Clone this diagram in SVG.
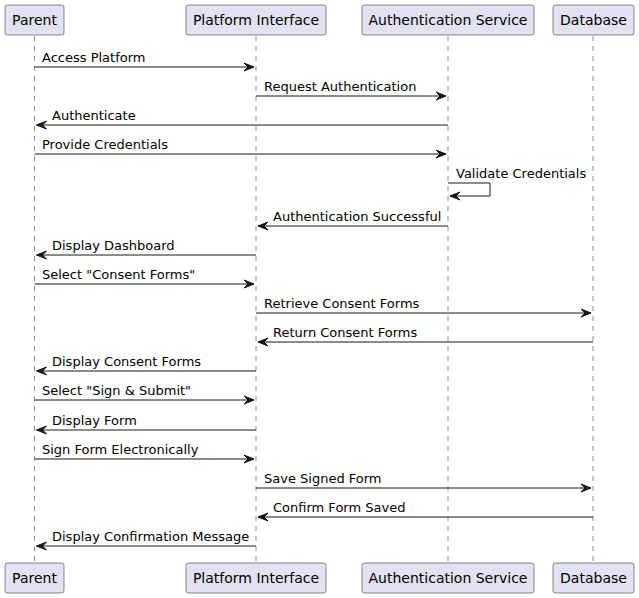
<svg xmlns="http://www.w3.org/2000/svg" width="639" height="598" viewBox="0 0 639 598">
<defs>
<style>
.life{stroke:#181818;stroke-width:0.5;stroke-dasharray:5,5;fill:none}
.box{fill:#E2E2F0;stroke:#181818;stroke-width:0.5}
.pt{font-family:"DejaVu Sans",sans-serif;font-size:14px;fill:#000;text-anchor:middle}
.msg{stroke:#181818;stroke-width:1;fill:none}
.head{fill:#181818;stroke:#181818;stroke-width:1}
.mt{font-family:"DejaVu Sans",sans-serif;font-size:13px;fill:#000}
</style>
</defs>
<rect width="639" height="598" fill="#FFFFFF"/>
<g id="lifelines">
<line class="life" x1="34.5" y1="36" x2="34.5" y2="563"/>
<line class="life" x1="256" y1="36" x2="256" y2="563"/>
<line class="life" x1="448" y1="36" x2="448" y2="563"/>
<line class="life" x1="593" y1="36" x2="593" y2="563"/>
</g>
<g id="parent">
<rect class="box" x="5" y="5" width="59" height="30" rx="2.5"/>
<text class="pt" x="34.5" y="25">Parent</text>
<rect class="box" x="5" y="563" width="59" height="30" rx="2.5"/>
<text class="pt" x="34.5" y="583">Parent</text>
</g>
<g id="platform">
<rect class="box" x="186" y="5" width="140" height="30" rx="2.5"/>
<text class="pt" x="256" y="25">Platform Interface</text>
<rect class="box" x="186" y="563" width="140" height="30" rx="2.5"/>
<text class="pt" x="256" y="583">Platform Interface</text>
</g>
<g id="auth">
<rect class="box" x="362" y="5" width="172" height="30" rx="2.5"/>
<text class="pt" x="448" y="25">Authentication Service</text>
<rect class="box" x="362" y="563" width="172" height="30" rx="2.5"/>
<text class="pt" x="448" y="583">Authentication Service</text>
</g>
<g id="database">
<rect class="box" x="553" y="5" width="81" height="30" rx="2.5"/>
<text class="pt" x="593.5" y="25">Database</text>
<rect class="box" x="553" y="563" width="81" height="30" rx="2.5"/>
<text class="pt" x="593.5" y="583">Database</text>
</g>
<g id="connectors">
<!-- right arrows: line from a to b, head at b -->
<line class="msg" x1="34.5" y1="67" x2="254" y2="67"/><polygon class="head" points="244,63 254,67 244,71 248,67"/>
<text class="mt" x="42" y="62">Access Platform</text>

<line class="msg" x1="256" y1="96" x2="446" y2="96"/><polygon class="head" points="436,92 446,96 436,100 440,96"/>
<text class="mt" x="264" y="91">Request Authentication</text>

<line class="msg" x1="36.5" y1="125" x2="448" y2="125"/><polygon class="head" points="46.5,121 36.5,125 46.5,129 42.5,125"/>
<text class="mt" x="52" y="120">Authenticate</text>

<line class="msg" x1="34.5" y1="154" x2="446" y2="154"/><polygon class="head" points="436,150 446,154 436,158 440,154"/>
<text class="mt" x="42" y="149">Provide Credentials</text>

<polyline class="msg" points="448,183 490,183 490,196 450,196"/><polygon class="head" points="460,192 450,196 460,200 456,196"/>
<text class="mt" x="456" y="178">Validate Credentials</text>

<line class="msg" x1="258" y1="226" x2="448" y2="226"/><polygon class="head" points="268,222 258,226 268,230 264,226"/>
<text class="mt" x="273" y="221">Authentication Successful</text>

<line class="msg" x1="36.5" y1="255" x2="256" y2="255"/><polygon class="head" points="46.5,251 36.5,255 46.5,259 42.5,255"/>
<text class="mt" x="52" y="250">Display Dashboard</text>

<line class="msg" x1="34.5" y1="284" x2="254" y2="284"/><polygon class="head" points="244,280 254,284 244,288 248,284"/>
<text class="mt" x="42" y="279">Select "Consent Forms"</text>

<line class="msg" x1="256" y1="313" x2="591" y2="313"/><polygon class="head" points="581,309 591,313 581,317 585,313"/>
<text class="mt" x="264" y="308">Retrieve Consent Forms</text>

<line class="msg" x1="258" y1="342" x2="593" y2="342"/><polygon class="head" points="268,338 258,342 268,346 264,342"/>
<text class="mt" x="273" y="337">Return Consent Forms</text>

<line class="msg" x1="36.5" y1="371" x2="256" y2="371"/><polygon class="head" points="46.5,367 36.5,371 46.5,375 42.5,371"/>
<text class="mt" x="52" y="366">Display Consent Forms</text>

<line class="msg" x1="34.5" y1="400" x2="254" y2="400"/><polygon class="head" points="244,396 254,400 244,404 248,400"/>
<text class="mt" x="42" y="395">Select "Sign &amp; Submit"</text>

<line class="msg" x1="36.5" y1="430" x2="256" y2="430"/><polygon class="head" points="46.5,426 36.5,430 46.5,434 42.5,430"/>
<text class="mt" x="52" y="425">Display Form</text>

<line class="msg" x1="34.5" y1="459" x2="254" y2="459"/><polygon class="head" points="244,455 254,459 244,463 248,459"/>
<text class="mt" x="42" y="454">Sign Form Electronically</text>

<line class="msg" x1="256" y1="488" x2="591" y2="488"/><polygon class="head" points="581,484 591,488 581,492 585,488"/>
<text class="mt" x="264" y="483">Save Signed Form</text>

<line class="msg" x1="258" y1="517" x2="593" y2="517"/><polygon class="head" points="268,513 258,517 268,521 264,517"/>
<text class="mt" x="273" y="512">Confirm Form Saved</text>

<line class="msg" x1="36.5" y1="546" x2="256" y2="546"/><polygon class="head" points="46.5,542 36.5,546 46.5,550 42.5,546"/>
<text class="mt" x="52" y="541">Display Confirmation Message</text>
</g>
</svg>
